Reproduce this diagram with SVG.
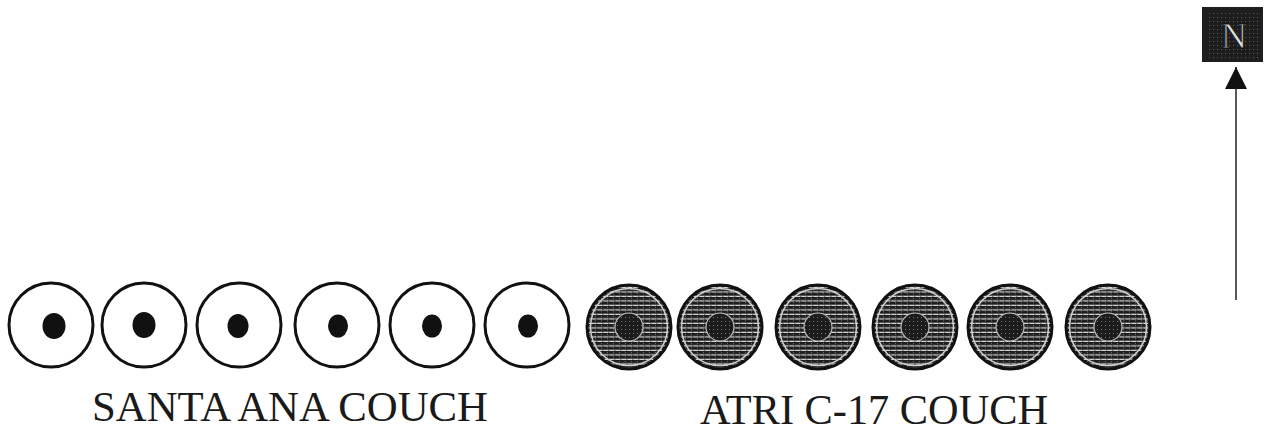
<svg xmlns="http://www.w3.org/2000/svg" width="1272" height="432" viewBox="0 0 1272 432">
<style>
.ring{fill:#fff;stroke:#111;stroke-width:3}
.dot{fill:#111}
.sh{fill:url(#stripes);stroke:#111;stroke-width:3}
.halo{fill:none;stroke:#d0d0d0;stroke-width:1.5}
.core{fill:url(#coreTex);stroke:#bbb;stroke-width:1.2}
.lbl{font-family:"Liberation Serif","Times New Roman",serif;font-size:42px;fill:#1a1a1a}
</style>
<defs>
<pattern id="stripes" width="6" height="4.5" patternUnits="userSpaceOnUse">
<rect width="6" height="4.5" fill="#dcdcdc"/>
<rect y="0" width="6" height="3.3" fill="#1e1e1e"/>
<rect x="2" y="3" width="1.5" height="1.2" fill="#555"/>
<rect x="1" y="1" width="1" height="0.8" fill="#888"/>
</pattern>
<pattern id="coreTex" width="4" height="4" patternUnits="userSpaceOnUse">
<rect width="4" height="4" fill="#1c1c1c"/>
<rect x="1" y="1" width="1" height="1" fill="#777"/>
</pattern>
<marker id="ah" viewBox="0 0 10 10" refX="10" refY="5" markerWidth="22" markerHeight="22" markerUnits="userSpaceOnUse" orient="auto">
<path d="M0,0 L10,5 L0,10 z" fill="#111"/>
</marker>
</defs>

<g id="santa-ana-1"><circle class="ring" cx="51" cy="325" r="42"/><ellipse class="dot" cx="54" cy="326" rx="11.5" ry="13"/></g>
<g id="santa-ana-2"><circle class="ring" cx="144" cy="325" r="42"/><ellipse class="dot" cx="144" cy="325" rx="11.5" ry="13"/></g>
<g id="santa-ana-3"><circle class="ring" cx="239" cy="325" r="42"/><ellipse class="dot" cx="238" cy="326" rx="10.5" ry="12"/></g>
<g id="santa-ana-4"><circle class="ring" cx="337" cy="325" r="42"/><ellipse class="dot" cx="338" cy="326" rx="10" ry="11.5"/></g>
<g id="santa-ana-5"><circle class="ring" cx="432" cy="325" r="42"/><ellipse class="dot" cx="432" cy="326" rx="10" ry="11.5"/></g>
<g id="santa-ana-6"><circle class="ring" cx="527" cy="325" r="42"/><ellipse class="dot" cx="528" cy="326" rx="10" ry="11.5"/></g>

<g id="atri-1"><circle class="sh" cx="629" cy="327" r="42"/><circle class="halo" cx="629" cy="327" r="38.5"/><circle class="core" cx="629" cy="327" r="14"/></g>
<g id="atri-2"><circle class="sh" cx="720" cy="327" r="42"/><circle class="halo" cx="720" cy="327" r="38.5"/><circle class="core" cx="720" cy="327" r="14"/></g>
<g id="atri-3"><circle class="sh" cx="818" cy="327" r="42"/><circle class="halo" cx="818" cy="327" r="38.5"/><circle class="core" cx="818" cy="327" r="14"/></g>
<g id="atri-4"><circle class="sh" cx="915" cy="327" r="42"/><circle class="halo" cx="915" cy="327" r="38.5"/><circle class="core" cx="915" cy="327" r="14"/></g>
<g id="atri-5"><circle class="sh" cx="1010" cy="327" r="42"/><circle class="halo" cx="1010" cy="327" r="38.5"/><circle class="core" cx="1010" cy="327" r="14"/></g>
<g id="atri-6"><circle class="sh" cx="1108" cy="327" r="42"/><circle class="halo" cx="1108" cy="327" r="38.5"/><circle class="core" cx="1108" cy="327" r="14"/></g>

<g id="labels">
<text class="lbl" x="92" y="421" textLength="396" lengthAdjust="spacingAndGlyphs">SANTA ANA COUCH</text>
<text class="lbl" x="700" y="424" textLength="348" lengthAdjust="spacingAndGlyphs">ATRI C-17 COUCH</text>
</g>

<g id="north">
<rect x="1202" y="7" width="61" height="55" fill="#1e1e1e"/>
<rect x="1206" y="11" width="53" height="47" fill="url(#coreTex)" opacity="0.7"/>
<text x="1234" y="48" text-anchor="middle" font-family="Liberation Serif, serif" font-size="36" fill="#e0e0e0" stroke="#111" stroke-width="0.8">N</text>
</g>

<g id="connectors">
<line x1="1236" y1="300" x2="1236" y2="67" stroke="#222" stroke-width="1.5" marker-end="url(#ah)"/>
</g>
</svg>
